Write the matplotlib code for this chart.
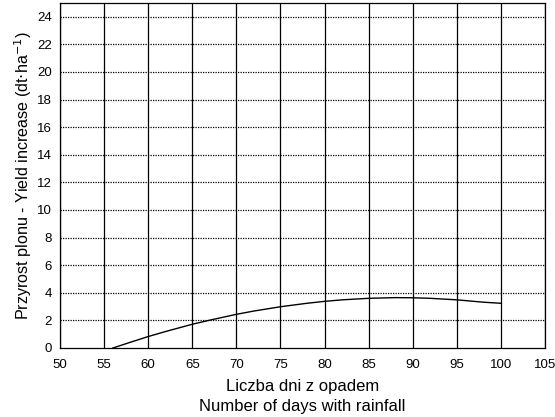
import matplotlib
matplotlib.use("Agg")
import matplotlib.pyplot as plt

plt.rcParams['font.family'] = ['Liberation Sans', 'DejaVu Sans']

days = [56, 58, 60, 62, 65, 67, 70, 72, 75, 78, 80, 82, 85, 88, 90, 92, 95, 98, 100]
yield_inc = [0.0, 0.42, 0.83, 1.2, 1.72, 2.02, 2.44, 2.68, 2.99, 3.24, 3.38, 3.49, 3.6, 3.65, 3.64, 3.6, 3.49, 3.32, 3.24]

xticks = [50, 55, 60, 65, 70, 75, 80, 85, 90, 95, 100, 105]
yticks = [0, 2, 4, 6, 8, 10, 12, 14, 16, 18, 20, 22, 24]

fig = plt.figure(figsize=(5.55, 4.17), dpi=100)
ax = fig.add_axes([60/555, 1-348/417, 485/555, 345/417])

ax.plot(days, yield_inc, color='black', lw=1.0, zorder=3)

ax.set_xlim(50, 105)
ax.set_ylim(0, 25)
ax.set_xticks(xticks)
ax.set_yticks(yticks)
ax.tick_params(axis='x', length=0, labelsize=9.5, pad=8)
ax.tick_params(axis='y', length=0, labelsize=9.5, pad=6)

for x in xticks:
    ax.axvline(x, color='black', lw=0.9, zorder=1)
for y in yticks[1:]:
    ax.axhline(y, color='black', lw=0.9, ls=(0, (1, 1)), zorder=1)

for s in ax.spines.values():
    s.set_linewidth(0.9)

ax.set_xlabel('Liczba dni z opadem\nNumber of days with rainfall', fontsize=12, labelpad=6, linespacing=1.35)
ax.set_ylabel('Przyrost plonu - Yield increase (dt$\\cdot$ha$^{-1}$)', fontsize=11.6, labelpad=2)

fig.savefig('out.png', dpi=100)
